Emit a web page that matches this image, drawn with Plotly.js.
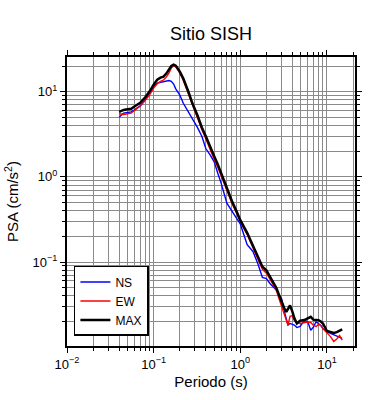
<!DOCTYPE html>
<html>
<head>
<meta charset="utf-8">
<script src="https://cdn.plot.ly/plotly-3.0.1.min.js"></script>
<style>html,body{margin:0;padding:0;background:#fff}#chart{width:390px;height:400px}</style>
</head>
<body>
<div id="chart"></div>
<script>
const periods = [0.04,0.045,0.05,0.055,0.06,0.07,0.08,0.09,0.10,0.11,0.12,0.13,0.14,0.15,0.16,0.17,0.18,0.20,0.22,0.25,0.28,0.32,0.36,0.40,0.45,0.50,0.55,0.60,0.70,0.80,0.90,1.0,1.2,1.4,1.6,1.8,2.0,2.2,2.4,2.6,2.8,3.0,3.2,3.4,3.55,3.75,4.0,4.2,4.5,4.9,5.5,6.0,6.5,7.0,7.5,8.0,8.5,9.0,10,11,12,13,14,15];

const psaNS = [5.0,5.6,5.7,5.8,6.1,6.8,8.0,9.6,11.5,12.6,12.9,13.2,13.5,13.5,13.2,12.3,10.8,9.2,7.3,5.9,4.9,3.8,3.0,2.15,1.8,1.5,1.1,0.85,0.49,0.39,0.33,0.28,0.16,0.133,0.095,0.066,0.064,0.056,0.051,0.047,0.041,0.037,0.027,0.021,0.0182,0.019,0.0185,0.0182,0.017,0.0175,0.0205,0.020,0.0158,0.0173,0.0199,0.019,0.018,0.0165,0.0152,0.0145,0.014,0.0135,0.0132,0.0127];

const psaEW = [5.5,5.4,5.5,5.6,6.0,6.8,7.9,9.2,11.0,12.4,13.2,13.7,14.8,16.5,19.0,20.3,19.6,16.6,13.5,9.6,6.8,5.0,3.6,2.8,2.05,1.6,1.3,1.04,0.68,0.49,0.38,0.30,0.21,0.148,0.108,0.082,0.074,0.062,0.053,0.047,0.037,0.030,0.025,0.0205,0.0182,0.023,0.0235,0.0205,0.0195,0.019,0.0193,0.0197,0.0195,0.018,0.0175,0.0185,0.018,0.0165,0.0148,0.0133,0.0117,0.0125,0.0137,0.0121];

const psaMAX = [5.8,6.1,6.2,6.3,6.7,7.4,8.6,10.1,12.1,13.8,14.6,15.0,16.3,18.4,20.0,20.8,20.2,17.3,14.3,10.2,7.3,5.3,3.8,3.0,2.2,1.75,1.4,1.1,0.72,0.52,0.40,0.31,0.22,0.155,0.115,0.088,0.080,0.067,0.056,0.050,0.041,0.034,0.029,0.026,0.028,0.031,0.026,0.022,0.019,0.0205,0.0208,0.022,0.0227,0.021,0.0208,0.0208,0.020,0.019,0.0155,0.0151,0.0147,0.015,0.0155,0.0162];

const seriesNames = ['NS','EW','MAX'];
const seriesColors = ['#0000ff','#ff0000','#000000'];
const majorTickVals = [0.01,0.1,1,10];
const majorTickText = ['10<sup>\u22122</sup>','10<sup>\u22121</sup>','10<sup>0</sup>','10<sup>1</sup>'];

const minorVals = [];
[0.01,0.1,1,10].forEach(d => { for (let m = 2; m <= 9; m++) minorVals.push(+(m*d).toPrecision(3)); });

const font = 'Liberation Sans, Arial, Helvetica, sans-serif';

const traces = [psaNS, psaEW, psaMAX].map((vals, i) => ({
  x: periods, y: vals, type: 'scatter', mode: 'lines',
  name: seriesNames[i],
  line: {color: seriesColors[i], width: i === 2 ? 2.5 : 1.4}
}));

const axisBase = {
  type: 'log',
  tickmode: 'array',
  tickvals: majorTickVals,
  ticktext: majorTickText,
  ticks: 'outside', ticklen: 5, tickwidth: 1, tickcolor: '#000',
  showline: true, linecolor: '#000', linewidth: 2, mirror: 'ticks',
  showgrid: true, gridcolor: '#8a8a8a', gridwidth: 1,
  zeroline: false,
  tickfont: {family: font, size: 13, color: '#000'},
  minor: {tickmode: 'array', tickvals: minorVals, ticks: 'outside', ticklen: 3, tickcolor: '#000', showgrid: true, gridcolor: '#8a8a8a', gridwidth: 1}
};

const layout = {
  width: 390, height: 400,
  margin: {l: 67, r: 35, t: 57, b: 54},
  paper_bgcolor: '#fff', plot_bgcolor: '#fff',
  font: {family: font, color: '#000'},
  title: {text: 'Sitio SISH', font: {family: font, size: 18, color: '#000'}, x: 0.541, xanchor: 'center', y: 0.917, yanchor: 'middle'},
  xaxis: Object.assign({}, axisBase, {range: [-2, 1.324], title: {text: 'Periodo (s)', font: {family: font, size: 15}, standoff: 6}}),
  yaxis: Object.assign({}, axisBase, {range: [-1.986, 1.407], title: {text: 'PSA (cm/s<sup>2</sup>)', font: {family: font, size: 15}, standoff: 10}}),
  showlegend: true,
  legend: {x: 0.024, y: 0.277, xanchor: 'left', yanchor: 'top', bgcolor: '#fff', bordercolor: '#000', borderwidth: 1.5, font: {family: font, size: 12, color: '#000'}, tracegroupgap: 0, entrywidth: 40, entrywidthmode: 'pixels'}
};

Plotly.newPlot('chart', traces, layout, {displayModeBar: false, staticPlot: true});
</script>
</body>
</html>
